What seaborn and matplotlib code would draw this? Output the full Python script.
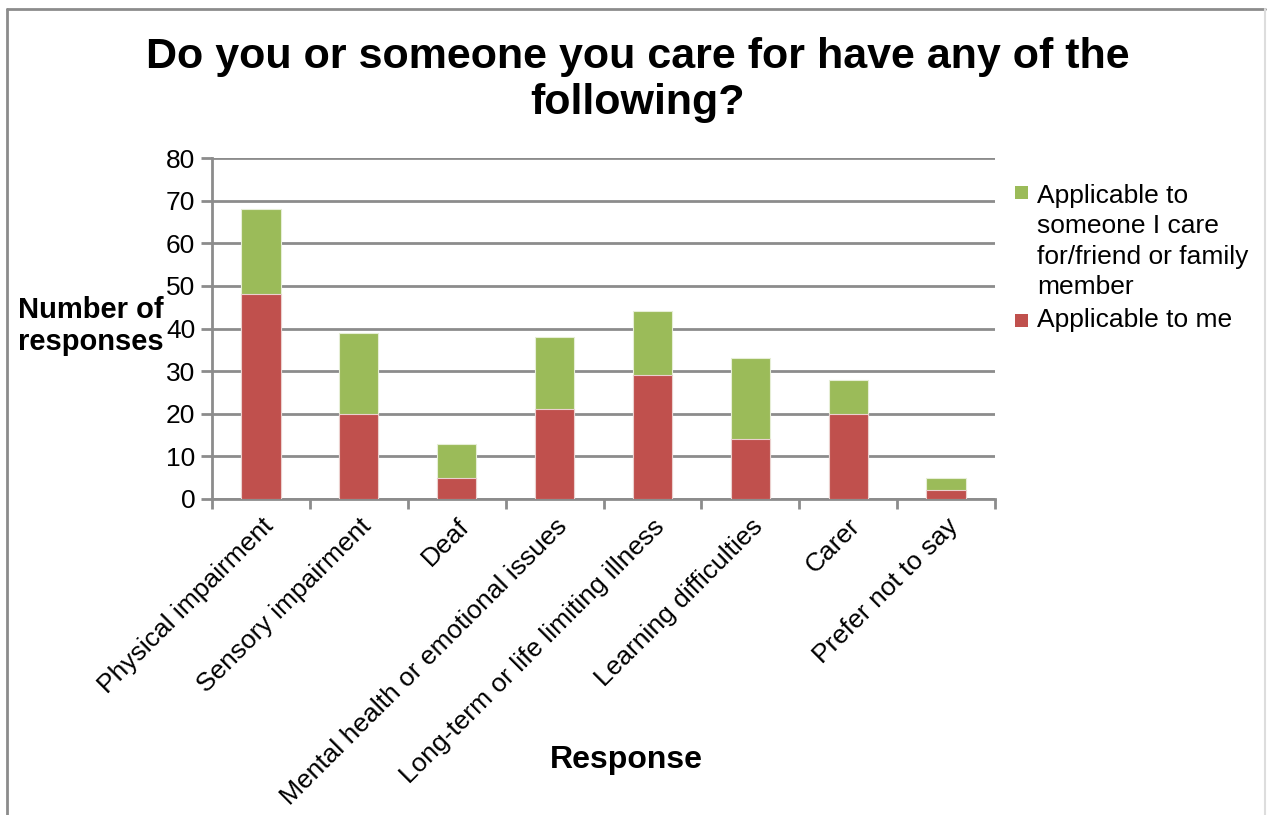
import matplotlib
matplotlib.use("Agg")
import matplotlib.pyplot as plt
import seaborn as sns
import pandas as pd
import numpy as np
from matplotlib.patches import Rectangle
from matplotlib.lines import Line2D

categories = ["Physical impairment", "Sensory impairment", "Deaf",
              "Mental health or emotional issues", "Long-term or life limiting illness",
              "Learning difficulties", "Carer", "Prefer not to say"]
applicable_me = [48, 20, 5, 21, 29, 14, 20, 2]
applicable_other = [20, 19, 8, 17, 15, 19, 8, 3]
series_labels = ["Applicable to\nsomeone I care\nfor/friend or family\nmember", "Applicable to me"]
yticks = [0, 10, 20, 30, 40, 50, 60, 70, 80]

sns.set_theme(style="white")
plt.rcParams['font.family'] = ['Liberation Sans', 'DejaVu Sans']
plt.rcParams['text.color'] = 'black'
plt.rcParams['xtick.color'] = 'black'
plt.rcParams['ytick.color'] = 'black'

df = pd.DataFrame({"cat": categories,
                   "me": applicable_me,
                   "total": np.array(applicable_me) + np.array(applicable_other)})

W, H = 1267, 815
fig = plt.figure(figsize=(W/100, H/100), dpi=100)
ax = fig.add_axes([212/W, 1-499/H, (995-212)/W, (499-158)/H])

green = "#9BBB59"
red = "#C0504D"
sns.barplot(data=df, x="cat", y="total", color=green, width=0.4, ax=ax,
            edgecolor="#E6EED6", linewidth=0.8, saturation=1, zorder=3)
sns.barplot(data=df, x="cat", y="me", color=red, width=0.4, ax=ax,
            edgecolor="#EBD0CF", linewidth=0.8, saturation=1, zorder=4)

ax.set_ylim(0, 80)
ax.set_xlim(-0.5, len(categories) - 0.5)
ax.set_yticks(yticks)
ax.set_yticklabels([str(v) for v in yticks], fontsize=19)
ax.yaxis.grid(True, color="#8C8C8C", linewidth=2, zorder=0)
ax.set_axisbelow(True)

ax.set_xticks(np.arange(len(categories)))
ax.set_xticklabels(categories, rotation=45, ha="right", rotation_mode="anchor", fontsize=19)
ax.tick_params(axis="x", which="major", length=0, pad=11)
ax.set_xticks(np.arange(-0.5, len(categories), 1.0), minor=True)
ax.tick_params(axis="x", which="minor", length=7, width=2, color="#8C8C8C", bottom=True)
ax.tick_params(axis="y", length=8, width=2, color="#8C8C8C", left=True, pad=4)

for s in ["top", "right"]:
    ax.spines[s].set_visible(False)
for s in ["left", "bottom"]:
    ax.spines[s].set_color("#8C8C8C")
    ax.spines[s].set_linewidth(2)

ax.set_xlabel("")
ax.set_ylabel("")
fig.text(626/W, 1-760/H, "Response", fontsize=23, fontweight="bold",
         ha="center", va="center")
fig.text(18/W, 1-326/H, "Number of\nresponses", fontsize=21, fontweight="bold",
         ha="left", va="center", linespacing=1.15)

fig.text(638/W, 1-80/H, "Do you or someone you care for have any of the\nfollowing?",
         fontsize=31, fontweight="bold", ha="center", va="center", linespacing=1.21)

# legend (handles aligned with first line of each label, as in the reference)
legend_colors = [green, red]
square_bottoms = [199, 327]
last_baselines = [294, 327]
for lab, col, sb, base in zip(series_labels, legend_colors, square_bottoms, last_baselines):
    fig.patches.append(Rectangle((1015/W, 1-sb/H), 13/W, 13/H,
                                 transform=fig.transFigure, facecolor=col, edgecolor="none"))
    fig.text(1037/W, 1-base/H, lab, fontsize=19, ha="left", va="baseline",
             linespacing=1.33)

fig.add_artist(Line2D([7/W, 7/W], [0, 1-9/H], transform=fig.transFigure,
                      color="#8C8C8C", linewidth=2))
fig.add_artist(Line2D([7/W, 1265/W], [1-9/H, 1-9/H], transform=fig.transFigure,
                      color="#8C8C8C", linewidth=2))
fig.add_artist(Line2D([1265/W, 1265/W], [0, 1-9/H], transform=fig.transFigure,
                      color="#DDDDDD", linewidth=1.5))

fig.savefig("out.png", dpi=100, facecolor="white")
